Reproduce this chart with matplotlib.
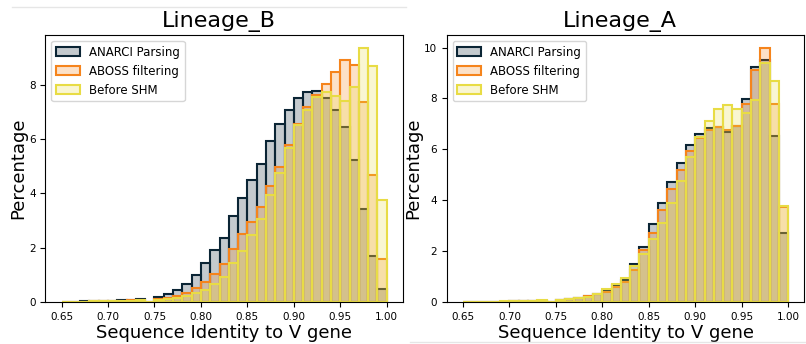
import numpy as np
import matplotlib
matplotlib.use("Agg")
import matplotlib.pyplot as plt
from matplotlib.lines import Line2D

# histogram bins: 0.65 -> 1.00, width 0.01
bin_edges = np.round(np.arange(0.65, 1.0001, 0.01), 2)
bin_centers = (bin_edges[:-1] + bin_edges[1:]) / 2

series_labels = ["ANARCI Parsing", "ABOSS filtering", "Before SHM"]

# Lineage_B percentages per bin
b_anarci = [0.01, 0.01, 0.02, 0.02, 0.03, 0.04, 0.06, 0.08, 0.12, 0.0,
            0.18, 0.28, 0.43, 0.68, 1.00, 1.42, 1.91, 2.37, 3.18, 3.82,
            4.47, 5.06, 5.91, 6.55, 7.08, 7.49, 7.73, 7.76, 7.49, 7.06,
            6.45, 5.22, 3.41, 1.69, 0.49]
b_aboss = [0.0, 0.01, 0.01, 0.02, 0.02, 0.03, 0.04, 0.06, 0.08, 0.0,
           0.10, 0.15, 0.22, 0.35, 0.52, 0.74, 1.02, 1.39, 1.96, 2.49,
           2.96, 3.49, 4.27, 4.98, 5.79, 6.55, 7.17, 7.62, 8.03, 8.47,
           8.90, 8.71, 7.34, 4.69, 1.60]
b_before = [0.0, 0.01, 0.01, 0.02, 0.02, 0.03, 0.04, 0.05, 0.07, 0.0,
            0.06, 0.10, 0.14, 0.22, 0.34, 0.46, 0.68, 0.92, 1.42, 1.88,
            2.46, 3.05, 3.92, 4.73, 5.67, 6.50, 7.08, 7.55, 7.73, 7.57,
            7.41, 7.91, 9.35, 8.68, 3.76]

# Lineage_A percentages per bin
a_anarci = [0.0, 0.01, 0.02, 0.02, 0.02, 0.03, 0.03, 0.04, 0.05, 0.0,
            0.08, 0.12, 0.17, 0.25, 0.33, 0.45, 0.65, 0.85, 1.48, 2.17,
            3.06, 3.91, 4.72, 5.45, 6.17, 6.60, 6.83, 6.87, 6.68, 6.90,
            7.99, 9.25, 9.52, 6.54, 2.73]
a_aboss = [0.0, 0.0, 0.01, 0.02, 0.02, 0.03, 0.03, 0.04, 0.05, 0.0,
           0.08, 0.11, 0.17, 0.22, 0.30, 0.39, 0.59, 0.79, 1.27, 2.03,
           2.73, 3.60, 4.44, 5.19, 5.94, 6.44, 6.76, 6.87, 6.76, 6.93,
           7.77, 9.12, 9.99, 7.78, 3.74]
a_before = [0.0, 0.0, 0.01, 0.02, 0.03, 0.04, 0.05, 0.06, 0.07, 0.0,
            0.09, 0.12, 0.17, 0.20, 0.30, 0.50, 0.71, 0.96, 1.43, 1.90,
            2.47, 3.09, 3.91, 4.76, 5.68, 6.50, 7.11, 7.59, 7.73, 7.59,
            7.44, 7.94, 9.38, 8.70, 3.78]

panels = [("Lineage_B", [b_anarci, b_aboss, b_before], [0, 2, 4, 6, 8]),
          ("Lineage_A", [a_anarci, a_aboss, a_before], [0, 2, 4, 6, 8, 10])]

edge_colors = ["#0b2535", "#f5841c", "#e8dc45"]

fig = plt.figure(figsize=(8.06, 3.44), dpi=100)
axes = [fig.add_axes([0.0562, 0.122, 0.4438, 0.776]),
        fig.add_axes([0.5542, 0.122, 0.4438, 0.776])]

for ax, (title, series, yticks) in zip(axes, panels):
    for vals, ec, lab in zip(series, edge_colors, series_labels):
        fc = matplotlib.colors.to_rgba(ec, 0.24)
        ax.hist(bin_centers, bins=bin_edges, weights=vals,
                facecolor=fc, edgecolor=ec, linewidth=1.5, label=lab)
    ax.set_title(title, fontsize=16, x=0.485)
    ax.set_xlabel("Sequence Identity to V gene", fontsize=13, labelpad=1.5)
    ax.set_ylabel("Percentage", fontsize=13, labelpad=1)
    ax.set_xticks([0.65, 0.70, 0.75, 0.80, 0.85, 0.90, 0.95, 1.00])
    ax.set_xticklabels(["0.65", "0.70", "0.75", "0.80", "0.85", "0.90", "0.95", "1.00"])
    ax.set_yticks(yticks)
    ax.tick_params(labelsize=7.5)
    ax.legend(loc="upper left", fontsize=8.5)

# faint page lines from the screenshot
fig.add_artist(Line2D([12 / 806, 406 / 806], [1 - 7 / 344, 1 - 7 / 344],
                      color="#e6e6e6", linewidth=1))
fig.add_artist(Line2D([410 / 806, 1.0], [1 - 341.5 / 344, 1 - 341.5 / 344],
                      color="#e6e6e6", linewidth=1))

fig.savefig("out.png", dpi=100)
